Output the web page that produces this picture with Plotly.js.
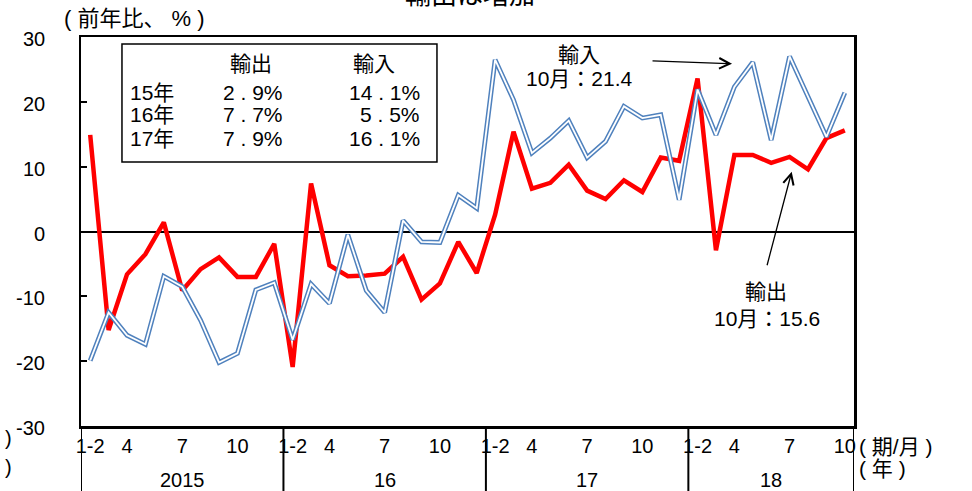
<!DOCTYPE html>
<html>
<head>
<meta charset="utf-8">
<script src="https://cdn.plot.ly/plotly-3.0.1.min.js"></script>
<style>html,body{margin:0;padding:0;background:#fff;}#chart{width:972px;height:491px;}</style>
</head>
<body>
<div id="chart"></div>
<script>
// ---- data ----
const yearLabels = ['2015', '16', '17', '18'];
const monthLabels = [
  ['1-2','3','4','5','6','7','8','9','10','11','12'],
  ['1-2','3','4','5','6','7','8','9','10','11','12'],
  ['1-2','3','4','5','6','7','8','9','10','11','12'],
  ['1-2','3','4','5','6','7','8','9','10']
];
const shownMonths = ['1-2', '4', '7', '10'];
// 輸出 (exports), y/y %
const exportsYoY = [
  14.9, -15.2, -6.6, -3.5, 1.4, -9.1, -5.8, -4.0, -7.0, -7.0, -1.9,
  -20.9, 7.4, -5.2, -6.9, -6.8, -6.5, -3.9, -10.5, -8.0, -1.6, -6.4,
  2.6, 15.4, 6.6, 7.5, 10.3, 6.3, 5.0, 7.9, 6.1, 11.4, 10.9,
  23.6, -2.9, 11.8, 11.8, 10.6, 11.5, 9.6, 14.4, 15.6
];
// 輸入 (imports), y/y %
const importsYoY = [
  -19.9, -12.5, -16.0, -17.4, -6.9, -8.5, -13.7, -20.2, -18.8, -9.0, -7.9,
  -16.7, -8.1, -11.1, -0.5, -9.1, -12.5, 1.7, -1.6, -1.7, 5.6, 3.6,
  26.5, 20.3, 12.1, 14.4, 17.1, 11.4, 13.9, 19.3, 17.5, 18.0, 4.9,
  21.9, 14.9, 22.3, 26.1, 14.1, 27.0, 20.8, 14.6, 21.4
];
// inset table
const tableYears = ['15年', '16年', '17年'];
const tableExports = ['2 . 9%', '7 . 7%', '7 . 9%'];
const tableImports = ['14 . 1%', '5 . 5%', '16 . 1%'];
const yTicks = [-30, -20, -10, 0, 10, 20, 30];

// ---- build ----
const FONT = 'Liberation Sans, Arial, Noto Sans CJK JP, sans-serif';
const NB = '\u00A0';
const cats = [];
const yearStart = [];
monthLabels.forEach((ms, yi) => {
  yearStart.push(cats.length);
  ms.forEach(m => cats.push({year: yearLabels[yi], month: m}));
});
const xs = cats.map((c, i) => i);
const tickvals = [], ticktext = [];
cats.forEach((c, i) => { if (shownMonths.includes(c.month)) { tickvals.push(i); ticktext.push(c.month); } });

const traces = [
  {x: xs, y: exportsYoY, type: 'scatter', mode: 'lines', line: {color: '#FF0000', width: 4.5}, hoverinfo: 'skip'},
  {x: xs, y: importsYoY, type: 'scatter', mode: 'lines', line: {color: '#4F81BD', width: 4.8}, hoverinfo: 'skip'},
  {x: xs, y: importsYoY, type: 'scatter', mode: 'lines', line: {color: '#FFFFFF', width: 1.8}, hoverinfo: 'skip'}
];

const shapes = [];
const bounds = yearStart.map(s => s - 0.5).concat([cats.length - 0.5]);
bounds.forEach(b => shapes.push({type: 'line', xref: 'x', yref: 'paper', x0: b, x1: b, y0: 0, y1: -0.2, line: {color: '#000', width: 2}}));
shapes.push({type: 'rect', xref: 'paper', yref: 'paper', x0: 0.053, x1: 0.4605, y0: 0.6787, y1: 0.982, line: {color: '#000', width: 1.5}, fillcolor: 'rgba(255,255,255,1)', layer: 'below'});

const ann = [];
const A = (o) => ann.push(Object.assign({showarrow: false, xanchor: 'center', yanchor: 'middle', font: {family: FONT, size: 20, color: '#000'}}, o));
// y tick labels (placed on the y scale)
yTicks.forEach(v => A({xref: 'paper', yref: 'y', x: -0.044, y: v, text: String(v), xanchor: 'right', yshift: -2}));
// year labels
monthLabels.forEach((ms, yi) => {
  const lo = yearStart[yi] - 0.5, hi = yearStart[yi] + ms.length - 0.5;
  A({xref: 'x', yref: 'paper', x: (lo + hi) / 2, y: -0.139, text: yearLabels[yi]});
});
// axis unit labels
A({xref: 'paper', yref: 'paper', x: 0.0686, y: 1.0488, text: '(' + NB + '前年比、' + NB + '%' + NB + ')', font: {family: FONT, size: 22, color: '#000'}});
A({xref: 'paper', yref: 'paper', x: 1.004, y: -0.052, text: '(' + NB + '期/月' + NB + ')', xanchor: 'left', font: {family: FONT, size: 21, color: '#000'}});
A({xref: 'paper', yref: 'paper', x: 1.004, y: -0.1105, text: '(' + NB + '年' + NB + ')', xanchor: 'left', font: {family: FONT, size: 21, color: '#000'}});
A({xref: 'paper', yref: 'paper', x: -0.094, y: -0.03, text: ')'});
A({xref: 'paper', yref: 'paper', x: -0.094, y: -0.105, text: ')'});
// clipped title
A({xref: 'paper', yref: 'paper', x: 0.503, y: 1.108, text: '輸出は増加', font: {family: FONT, size: 26, color: '#000'}});
// inset table
A({xref: 'paper', yref: 'paper', x: 0.2199, y: 0.9306, text: '輸出', font: {family: FONT, size: 21, color: '#000'}});
A({xref: 'paper', yref: 'paper', x: 0.379, y: 0.9306, text: '輸入', font: {family: FONT, size: 21, color: '#000'}});
const rowY = [0.8586, 0.7995, 0.7378];
tableYears.forEach((t, i) => {
  A({xref: 'paper', yref: 'paper', x: 0.0608, y: rowY[i], text: t, xanchor: 'left', font: {family: FONT, size: 21, color: '#000'}});
  A({xref: 'paper', yref: 'paper', x: 0.2639, y: rowY[i], text: tableExports[i], xanchor: 'right', font: {family: FONT, size: 21, color: '#000'}});
  A({xref: 'paper', yref: 'paper', x: 0.4411, y: rowY[i], text: tableImports[i], xanchor: 'right', font: {family: FONT, size: 21, color: '#000'}});
});
// callouts
A({xref: 'paper', yref: 'paper', x: 0.644, y: 0.956, text: '輸入', font: {family: FONT, size: 21, color: '#000'}});
A({xref: 'paper', yref: 'paper', x: 0.645, y: 0.8946, text: '10月：21.4', font: {family: FONT, size: 21, color: '#000'}});
A({xref: 'paper', yref: 'paper', x: 0.886, y: 0.3445, text: '輸出', font: {family: FONT, size: 21, color: '#000'}});
A({xref: 'paper', yref: 'paper', x: 0.887, y: 0.2776, text: '10月：15.6', font: {family: FONT, size: 21, color: '#000'}});
// arrows
ann.push({xref: 'paper', yref: 'paper', x: 0.8422, y: 0.9311, ax: -81, ay: -3, text: '', showarrow: true, arrowhead: 5, arrowsize: 1.6, arrowwidth: 1.3, arrowcolor: '#000', standoff: 0, startstandoff: 0});
ann.push({xref: 'paper', yref: 'paper', x: 0.9194, y: 0.6537, ax: -25, ay: 95, text: '', showarrow: true, arrowhead: 5, arrowsize: 1.6, arrowwidth: 1.3, arrowcolor: '#000', standoff: 0, startstandoff: 0});

const layout = {
  width: 972, height: 491,
  margin: {l: 81, r: 118, t: 37, b: 65, pad: 0},
  paper_bgcolor: '#fff', plot_bgcolor: '#fff',
  showlegend: false,
  font: {family: FONT, size: 20, color: '#000'},
  xaxis: {
    range: [-0.5, cats.length - 0.5], tickmode: 'array', tickvals: tickvals, ticktext: ticktext,
    showgrid: false, zeroline: false, showline: true, linecolor: '#000', linewidth: 2.5, mirror: true,
    ticks: '', tickfont: {family: FONT, size: 20, color: '#000'}, fixedrange: true
  },
  yaxis: {
    range: [-30, 30], tickmode: 'array', tickvals: yTicks, showticklabels: false,
    showgrid: false, zeroline: true, zerolinecolor: '#000', zerolinewidth: 2,
    showline: true, linecolor: '#000', linewidth: 2.5, mirror: true,
    ticks: 'inside', ticklen: 6, tickwidth: 2, tickcolor: '#000', fixedrange: true
  },
  shapes: shapes,
  annotations: ann
};
Plotly.newPlot('chart', traces, layout, {displayModeBar: false, staticPlot: true});
</script>
</body>
</html>
